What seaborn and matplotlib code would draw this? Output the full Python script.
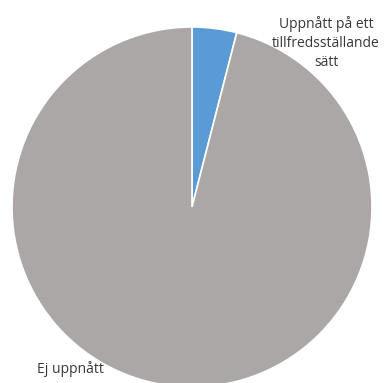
import matplotlib
matplotlib.use("Agg")
import matplotlib.pyplot as plt
import seaborn as sns

categories = ["Uppnått på ett\ntillfredsställande\nsätt", "Ej uppnått"]
values = [4, 96]
colors = ["#5B9BD5", "#AAA7A6"]

sns.set_theme(style="white")
plt.rcParams['font.family'] = ['Open Sans', 'DejaVu Sans']

W, H = 385, 383
fig = plt.figure(figsize=(W / 100, H / 100), dpi=100)
ax = fig.add_axes([0, 0, 1, 1])
ax.set_xlim(0, W)
ax.set_ylim(0, H)
ax.axis("off")

cx, cy, r = 192, H - 207, 180
ax.pie(values, colors=colors, startangle=90, counterclock=False,
       center=(cx, cy), radius=r, frame=False,
       wedgeprops=dict(edgecolor="white", linewidth=1.2))
ax.set_xlim(0, W)
ax.set_ylim(0, H)
ax.set_aspect("auto")
ax.axis("off")

ax.text(326, H - 43, categories[0], ha="center", va="center",
        fontsize=10, color="#383838", linespacing=1.4)
ax.text(70, H - 369, categories[1], ha="center", va="center",
        fontsize=10, color="#383838")

fig.savefig("out.png", dpi=100, facecolor="white")
